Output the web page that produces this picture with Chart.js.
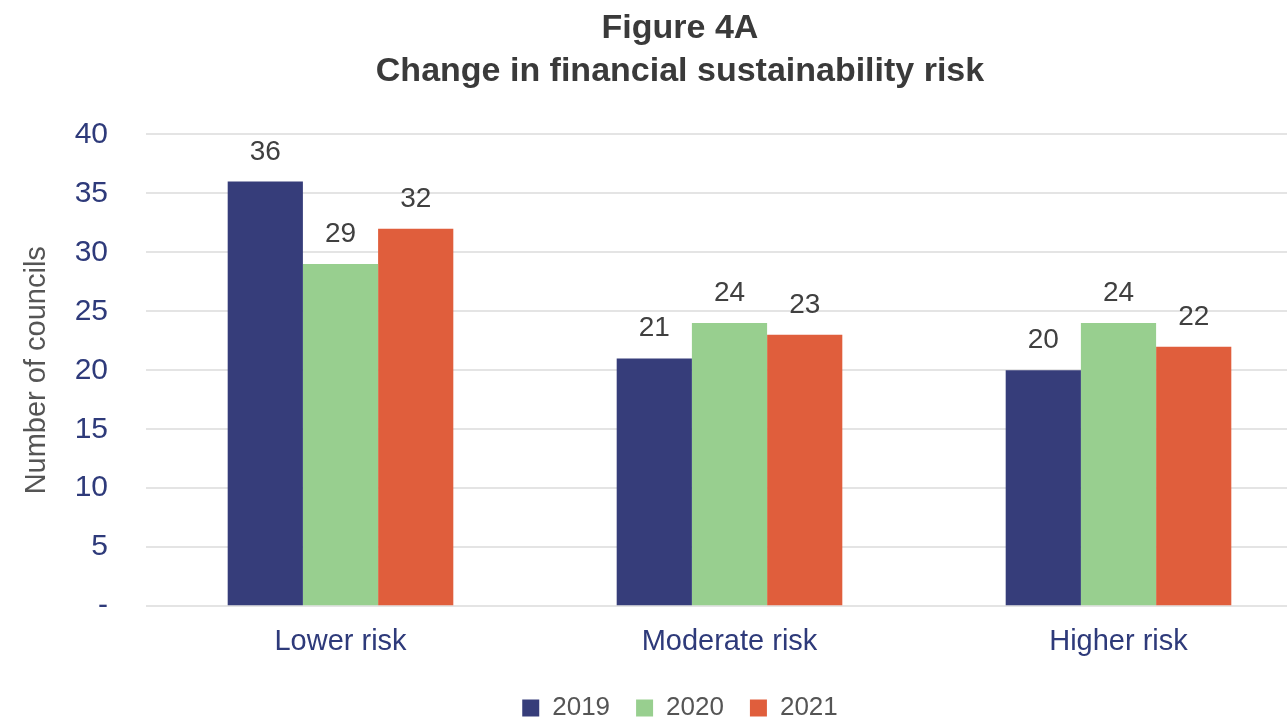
<!DOCTYPE html>
<html>
<head>
<meta charset="utf-8">
<script src="https://cdn.jsdelivr.net/npm/chart.js@4"></script>
<style>
  html, body { margin: 0; padding: 0; background: #fff; overflow: hidden; }
  #wrap { width: 1360px; height: 719px; }
</style>
</head>
<body>
<div id="wrap"><canvas id="chart" width="1360" height="719"></canvas></div>
<script>
const categories = ['Lower risk', 'Moderate risk', 'Higher risk'];
const years = ['2019', '2020', '2021'];
const values2019 = [36, 21, 20];
const values2020 = [29, 24, 24];
const values2021 = [32, 23, 22];
const yTicks = [0, 5, 10, 15, 20, 25, 30, 35, 40];

const colors = ['#363d7a', '#98cf8f', '#e05e3c'];
const font = 'Liberation Sans, Arial, sans-serif';

// numbers above each bar
const barLabels = {
  id: 'barLabels',
  afterDatasetsDraw(c) {
    const ctx = c.ctx;
    ctx.save();
    ctx.font = '28px ' + font;
    ctx.fillStyle = '#404040';
    ctx.textAlign = 'center';
    ctx.textBaseline = 'alphabetic';
    c.data.datasets.forEach((ds, i) => {
      c.getDatasetMeta(i).data.forEach((bar, j) => {
        ctx.fillText(ds.data[j], bar.x, bar.y - 22);
      });
    });
    ctx.restore();
  }
};

new Chart(document.getElementById('chart'), {
  type: 'bar',
  data: {
    labels: categories,
    datasets: [
      { label: years[0], data: values2019, backgroundColor: colors[0] },
      { label: years[1], data: values2020, backgroundColor: colors[1] },
      { label: years[2], data: values2021, backgroundColor: colors[2] }
    ]
  },
  options: {
    responsive: false,
    animation: false,
    devicePixelRatio: 1,
    layout: { padding: { top: 0, right: 47, bottom: -12, left: 47 } },
    datasets: { bar: { categoryPercentage: 0.58, barPercentage: 1 } },
    plugins: {
      title: {
        display: true,
        text: ['Figure 4A', 'Change in financial sustainability risk'],
        color: '#3a3a3a',
        font: { family: font, size: 34, weight: 'bold', lineHeight: 1.24 },
        padding: { top: 8, bottom: 42 }
      },
      legend: {
        position: 'bottom',
        labels: {
          color: '#555555',
          font: { family: font, size: 26 },
          boxWidth: 17,
          boxHeight: 17,
          padding: 26
        }
      },
      tooltip: { enabled: false }
    },
    scales: {
      x: {
        grid: { display: false },
        border: { display: false },
        ticks: { color: '#2e3a7a', font: { family: font, size: 29 }, padding: 10 }
      },
      y: {
        min: 0,
        max: 40,
        afterFit: s => { s.width = 99; },
        afterBuildTicks: s => { s.ticks = yTicks.map(v => ({ value: v })); },
        grid: { color: '#e4e4e4', lineWidth: 2, drawTicks: false },
        border: { display: false },
        ticks: {
          color: '#2e3a7a',
          font: { family: font, size: 30 },
          padding: 38,
          callback: v => v === 0 ? '-' : v
        },
        title: {
          display: true,
          text: 'Number of councils',
          color: '#555555',
          font: { family: font, size: 29 },
          padding: { top: -27, bottom: 0 }
        }
      }
    }
  },
  plugins: [barLabels]
});
</script>
</body>
</html>
